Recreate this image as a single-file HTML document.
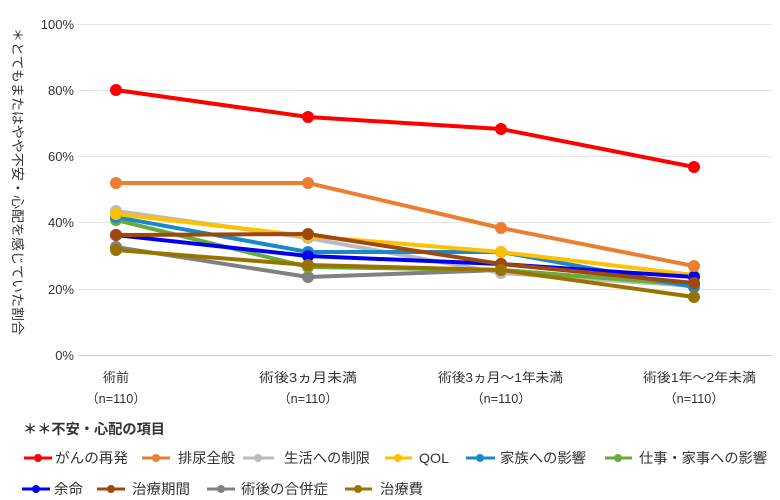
<!DOCTYPE html>
<html><head><meta charset="utf-8"><style>
body{margin:0;background:#fff}
svg{display:block;font-family:"Liberation Sans","Noto Sans CJK JP",sans-serif}
</style></head><body>
<svg width="780" height="500" viewBox="0 0 780 500">
<g stroke="#e4e4e4" stroke-width="1">
<line x1="78" x2="772" y1="24.5" y2="24.5"/><line x1="78" x2="772" y1="90.5" y2="90.5"/>
<line x1="78" x2="772" y1="156.5" y2="156.5"/><line x1="78" x2="772" y1="222.5" y2="222.5"/>
<line x1="78" x2="772" y1="289.5" y2="289.5"/>
</g>
<line x1="78" x2="772" y1="355.5" y2="355.5" stroke="#ccc"/>
<g font-size="13" fill="#333" text-anchor="end">
<text x="74" y="29">100%</text><text x="74" y="95">80%</text><text x="74" y="161">60%</text>
<text x="74" y="227">40%</text><text x="74" y="294">20%</text><text x="74" y="360">0%</text>
</g>
<text transform="translate(13,28) rotate(90)" font-size="13" fill="#333" textLength="307" lengthAdjust="spacingAndGlyphs">＊とてもまたはやや不安・心配を感じていた割合</text>
<g font-size="13" fill="#333">
<text x="103" y="382" textLength="26" lengthAdjust="spacingAndGlyphs">術前</text><text x="86" y="403" textLength="60" lengthAdjust="spacingAndGlyphs">（n=110）</text>
<text x="259" y="382" textLength="98" lengthAdjust="spacingAndGlyphs">術後3ヵ月未満</text><text x="278" y="403" textLength="60" lengthAdjust="spacingAndGlyphs">（n=110）</text>
<text x="438" y="382" textLength="125" lengthAdjust="spacingAndGlyphs">術後3ヵ月～1年未満</text><text x="471" y="403" textLength="60" lengthAdjust="spacingAndGlyphs">（n=110）</text>
<text x="643" y="382" textLength="113" lengthAdjust="spacingAndGlyphs">術後1年～2年未満</text><text x="664" y="403" textLength="60" lengthAdjust="spacingAndGlyphs">（n=110）</text>
</g>
<g fill="none" stroke-width="4">
<polyline stroke="#808080" points="116,247 308,277 501,270 694,285"/>
<polyline stroke="#bbbbbb" points="116,211 308,238 501,273 694,286"/>
<polyline stroke="#6aaa3a" points="116,220 308,267 501,270 694,285"/>
<polyline stroke="#1a88c9" points="116,217 308,252 501,252 694,287"/>
<polyline stroke="#ffc000" points="116,214 308,236 501,252 694,275"/>
<polyline stroke="#0000ee" points="116,235 308,256 501,264 694,277"/>
<polyline stroke="#9e480e" points="116,235 308,234 501,264 694,283"/>
<polyline stroke="#9a7200" points="116,250 308,265 501,270 694,297"/>
<polyline stroke="#ed7d31" points="116,183 308,183 501,228 694,266"/>
<polyline stroke="#ff0000" points="116,90 308,117 501,129 694,167"/>
</g>
<g>
<g fill="#808080"><circle cx="116" cy="247" r="6"/><circle cx="308" cy="277" r="6"/><circle cx="501" cy="270" r="6"/><circle cx="694" cy="285" r="6"/></g>
<g fill="#bbbbbb"><circle cx="116" cy="211" r="6"/><circle cx="308" cy="238" r="6"/><circle cx="501" cy="273" r="6"/><circle cx="694" cy="286" r="6"/></g>
<g fill="#6aaa3a"><circle cx="116" cy="220" r="6"/><circle cx="308" cy="267" r="6"/><circle cx="501" cy="270" r="6"/><circle cx="694" cy="285" r="6"/></g>
<g fill="#1a88c9"><circle cx="116" cy="217" r="6"/><circle cx="308" cy="252" r="6"/><circle cx="501" cy="252" r="6"/><circle cx="694" cy="287" r="6"/></g>
<g fill="#ffc000"><circle cx="116" cy="214" r="6"/><circle cx="308" cy="236" r="6"/><circle cx="501" cy="252" r="6"/><circle cx="694" cy="275" r="6"/></g>
<g fill="#0000ee"><circle cx="116" cy="235" r="6"/><circle cx="308" cy="256" r="6"/><circle cx="501" cy="264" r="6"/><circle cx="694" cy="277" r="6"/></g>
<g fill="#9e480e"><circle cx="116" cy="235" r="6"/><circle cx="308" cy="234" r="6"/><circle cx="501" cy="264" r="6"/><circle cx="694" cy="283" r="6"/></g>
<g fill="#9a7200"><circle cx="116" cy="250" r="6"/><circle cx="308" cy="265" r="6"/><circle cx="501" cy="270" r="6"/><circle cx="694" cy="297" r="6"/></g>
<g fill="#ed7d31"><circle cx="116" cy="183" r="6"/><circle cx="308" cy="183" r="6"/><circle cx="501" cy="228" r="6"/><circle cx="694" cy="266" r="6"/></g>
<g fill="#ff0000"><circle cx="116" cy="90" r="6"/><circle cx="308" cy="117" r="6"/><circle cx="501" cy="129" r="6"/><circle cx="694" cy="167" r="6"/></g>
</g>
<text x="23" y="434" font-size="14" font-weight="bold" fill="#333" textLength="142" lengthAdjust="spacingAndGlyphs">＊＊不安・心配の項目</text>
<g font-size="14" fill="#333" stroke-width="3">
<line x1="24" x2="52" y1="458" y2="458" stroke="#ff0000"/><circle cx="38" cy="458" r="4" fill="#ff0000"/><text x="55" y="463" textLength="73" lengthAdjust="spacingAndGlyphs">がんの再発</text>
<line x1="142" x2="170" y1="458" y2="458" stroke="#ed7d31"/><circle cx="156" cy="458" r="4" fill="#ed7d31"/><text x="178" y="463" textLength="57" lengthAdjust="spacingAndGlyphs">排尿全般</text>
<line x1="243" x2="274" y1="458" y2="458" stroke="#bbbbbb"/><circle cx="258" cy="458" r="4" fill="#bbbbbb"/><text x="284" y="463" textLength="86" lengthAdjust="spacingAndGlyphs">生活への制限</text>
<line x1="385" x2="412" y1="458" y2="458" stroke="#ffc000"/><circle cx="398" cy="458" r="4" fill="#ffc000"/><text x="419" y="463" textLength="30" lengthAdjust="spacingAndGlyphs">QOL</text>
<line x1="466" x2="495" y1="458" y2="458" stroke="#1a88c9"/><circle cx="480" cy="458" r="4" fill="#1a88c9"/><text x="500" y="463" textLength="86" lengthAdjust="spacingAndGlyphs">家族への影響</text>
<line x1="605" x2="632" y1="458" y2="458" stroke="#6aaa3a"/><circle cx="618" cy="458" r="4" fill="#6aaa3a"/><text x="639" y="463" textLength="128" lengthAdjust="spacingAndGlyphs">仕事・家事への影響</text>
<line x1="22" x2="50" y1="489" y2="489" stroke="#0000ee"/><circle cx="36" cy="489" r="4" fill="#0000ee"/><text x="54" y="494" textLength="29" lengthAdjust="spacingAndGlyphs">余命</text>
<line x1="97" x2="125" y1="489" y2="489" stroke="#9e480e"/><circle cx="111" cy="489" r="4" fill="#9e480e"/><text x="132" y="494" textLength="58" lengthAdjust="spacingAndGlyphs">治療期間</text>
<line x1="207" x2="235" y1="489" y2="489" stroke="#808080"/><circle cx="221" cy="489" r="4" fill="#808080"/><text x="241" y="494" textLength="87" lengthAdjust="spacingAndGlyphs">術後の合併症</text>
<line x1="345" x2="372" y1="489" y2="489" stroke="#9a7200"/><circle cx="358" cy="489" r="4" fill="#9a7200"/><text x="380" y="494" textLength="43" lengthAdjust="spacingAndGlyphs">治療費</text>
</g>
</svg>
</body></html>
